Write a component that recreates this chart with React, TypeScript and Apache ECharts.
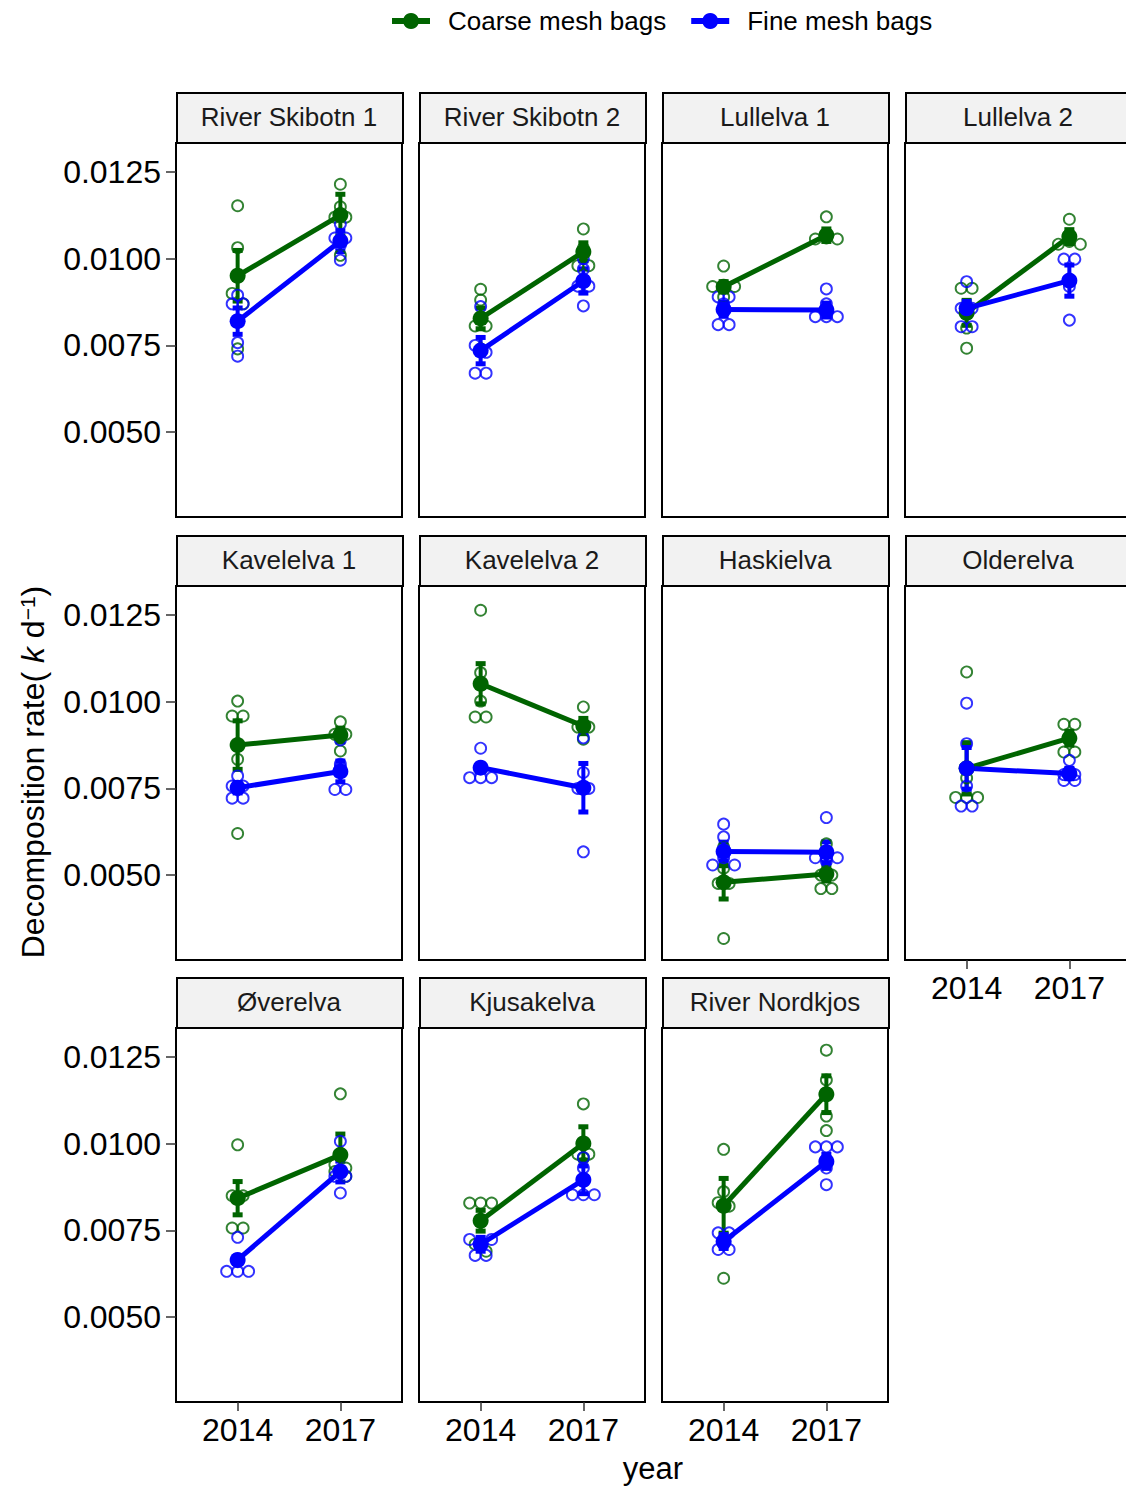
import React, { useEffect, useRef } from "react";
import * as echarts from "echarts";

// ---------------- DATA ----------------
const rivers = [
  "River Skibotn 1", "River Skibotn 2", "Lullelva 1", "Lullelva 2",
  "Kavelelva 1", "Kavelelva 2", "Haskielva", "Olderelva",
  "Øverelva", "Kjusakelva", "River Nordkjos",
];
const years = ["2014", "2017"];
const yTicks = [0.005, 0.0075, 0.01, 0.0125];

const coarseMean2014 = [0.00951, 0.00828, 0.00919, 0.00844, 0.00875, 0.01052, 0.00479, 0.00808, 0.00843, 0.00778, 0.00821];
const coarseMean2017 = [0.01126, 0.0102, 0.01068, 0.01064, 0.00904, 0.0093, 0.00503, 0.00895, 0.00968, 0.01001, 0.01143];
const fineMean2014 = [0.0082, 0.00735, 0.00854, 0.00857, 0.00752, 0.0081, 0.00568, 0.00808, 0.00665, 0.0071, 0.00718];
const fineMean2017 = [0.01051, 0.00936, 0.00852, 0.00937, 0.00799, 0.00752, 0.00566, 0.00793, 0.0092, 0.00896, 0.00949];

const coarseSe2014 = [0.00073, 0.0003, 0.00015, 0.00036, 0.0007, 0.00058, 0.00048, 0.00074, 0.00048, 0.0003, 0.00079];
const coarseSe2017 = [0.0006, 0.00026, 0.00018, 0.0002, 0.0002, 0.00022, 0.0002, 0.0002, 0.0006, 0.00048, 0.00053];
const fineSe2014 = [0.00038, 0.00038, 0.0002, 0.0002, 0.00015, 0.0001, 0.00027, 0.0006, 0.0001, 0.0002, 0.0002];
const fineSe2017 = [0.0003, 0.00035, 0.0002, 0.00045, 0.0003, 0.0007, 0.0003, 0.00015, 0.0003, 0.0004, 0.0002];

const coarseRaw2014 = [
  [0.01153, 0.01032, 0.009, 0.0087, 0.0074],
  [0.00912, 0.00881, 0.00806, 0.00806, 0.0074],
  [0.00979, 0.0092, 0.0092, 0.0092, 0.0089],
  [0.00915, 0.00915, 0.0085, 0.008, 0.00742],
  [0.01002, 0.00959, 0.00959, 0.00834, 0.0062],
  [0.01264, 0.01084, 0.01002, 0.00956, 0.00956],
  [0.0058, 0.0052, 0.00476, 0.00476, 0.00317],
  [0.01086, 0.0078, 0.00724, 0.00724, 0.00724],
  [0.00997, 0.0085, 0.0085, 0.00757, 0.00757],
  [0.00829, 0.00829, 0.00829, 0.0071, 0.0069],
  [0.00984, 0.00862, 0.0083, 0.0082, 0.00612],
];
const coarseDodge2014 = [
  [0, 0, -0.5, 0.5, 0], [0, 0, -0.5, 0.5, 0], [0, -1, 0, 1, 0], [-0.5, 0.5, 0, 0, 0],
  [0, -0.5, 0.5, 0, 0], [0, 0, 0, -0.5, 0.5], [0, 0, -0.5, 0.5, 0], [0, 0, -1, 0, 1],
  [0, -0.5, 0.5, -0.5, 0.5], [-1, 0, 1, -0.5, 0.5], [0, 0, -0.5, 0.5, 0],
];
const fineRaw2014 = [
  [0.00895, 0.0087, 0.0087, 0.00758, 0.00719],
  [0.00862, 0.0075, 0.0073, 0.0067, 0.0067],
  [0.0089, 0.0089, 0.0087, 0.0081, 0.0081],
  [0.00934, 0.00857, 0.00857, 0.00804, 0.00804],
  [0.00786, 0.00757, 0.00757, 0.00722, 0.00722],
  [0.00866, 0.0081, 0.00781, 0.00781, 0.00781],
  [0.00647, 0.0061, 0.0055, 0.00529, 0.00529],
  [0.00996, 0.00879, 0.00757, 0.00699, 0.00699],
  [0.0073, 0.0066, 0.00632, 0.00632, 0.00632],
  [0.00724, 0.00724, 0.0071, 0.00678, 0.00678],
  [0.00743, 0.00743, 0.0071, 0.00695, 0.00695],
];
const fineDodge2014 = [
  [0, -0.5, 0.5, 0, 0], [0, -0.5, 0.5, -0.5, 0.5], [-0.5, 0.5, 0, -0.5, 0.5], [0, -0.5, 0.5, -0.5, 0.5],
  [0, -0.5, 0.5, -0.5, 0.5], [0, 0, -1, 0, 1], [0, 0, 0, -1, 1], [0, 0, 0, -0.5, 0.5],
  [0, 0, -1, 0, 1], [-1, 1, 0, -0.5, 0.5], [-0.5, 0.5, 0, -0.5, 0.5],
];
const coarseRaw2017 = [
  [0.01215, 0.0115, 0.0112, 0.0112, 0.0101],
  [0.01086, 0.0103, 0.0102, 0.0098, 0.0098],
  [0.01121, 0.0107, 0.0106, 0.01057, 0.01057],
  [0.01114, 0.0107, 0.0105, 0.01042, 0.01042],
  [0.00942, 0.0091, 0.00906, 0.00906, 0.00858],
  [0.00985, 0.0093, 0.00927, 0.00927, 0.00892],
  [0.0059, 0.005, 0.005, 0.00461, 0.00461],
  [0.00935, 0.00935, 0.00895, 0.00855, 0.00855],
  [0.01144, 0.0094, 0.0093, 0.0092, 0.00906],
  [0.01115, 0.01, 0.0097, 0.0097, 0.0096],
  [0.0127, 0.01184, 0.0114, 0.0108, 0.01038],
];
const coarseDodge2017 = [
  [0, 0, -0.5, 0.5, 0], [0, 0, 0, -0.5, 0.5], [0, 0, 0, -1, 1], [0, 0, 0, -1, 1],
  [0, 0, -0.5, 0.5, 0], [0, 0, -0.5, 0.5, 0], [0, -0.5, 0.5, -0.5, 0.5], [-0.5, 0.5, 0, -0.5, 0.5],
  [0, -0.5, 0.5, -0.5, 0.5], [0, 0, -0.5, 0.5, 0], [0, 0, 0, 0, 0],
];
const fineRaw2017 = [
  [0.011, 0.0106, 0.0106, 0.0104, 0.00996],
  [0.01, 0.0097, 0.00921, 0.00921, 0.00864],
  [0.00913, 0.0087, 0.00833, 0.00833, 0.00833],
  [0.00999, 0.00999, 0.0094, 0.0092, 0.00823],
  [0.0089, 0.0082, 0.0081, 0.00747, 0.00747],
  [0.00896, 0.00796, 0.0075, 0.0075, 0.00567],
  [0.00666, 0.0055, 0.0055, 0.0055, 0.0054],
  [0.00831, 0.0079, 0.0079, 0.00773, 0.00773],
  [0.01007, 0.0092, 0.00906, 0.00906, 0.00858],
  [0.0096, 0.0093, 0.00853, 0.00853, 0.00853],
  [0.00991, 0.00991, 0.00991, 0.0093, 0.00882],
];
const fineDodge2017 = [
  [0, -0.5, 0.5, 0, 0], [0, 0, -0.5, 0.5, 0], [0, 0, -1, 0, 1], [-0.5, 0.5, 0, 0, 0],
  [0, 0, 0, -0.5, 0.5], [0, 0, -0.5, 0.5, 0], [0, -1, 0, 1, 0], [0, -0.5, 0.5, -0.5, 0.5],
  [0, 0, -0.5, 0.5, 0], [0, 0, -1, 0, 1], [-1, 0, 1, 0, 0],
];

// ---------------- STYLE / LAYOUT ----------------
const GREEN = "#006400";
const BLUE = "#0000FF";
const FONT = "'Liberation Sans', Arial, Helvetica, sans-serif";
const DODGE = 0.107;
const colLeft = [176, 419, 662, 905];
const rowTop = [143, 586, 1028];
const PW = 226;
const PH = 374;
const Y_MIN = 0.00255;
const Y_MAX = 0.01334;

export default function App() {
  const ref = useRef<HTMLDivElement>(null);

  useEffect(() => {
    const chart = echarts.init(ref.current as HTMLDivElement, null, { renderer: "svg" });
    const grids: any[] = [];
    const xAxes: any[] = [];
    const yAxes: any[] = [];
    const series: any[] = [];
    const graphics: any[] = [];

    const rawData = (v14: number[], d14: number[], v17: number[], d17: number[]) => [
      ...v14.map((v, j) => [1 + d14[j] * DODGE, v]),
      ...v17.map((v, j) => [2 + d17[j] * DODGE, v]),
    ];

    const errRender = (color: string) => (params: any, api: any) => {
      const x = api.value(0);
      const lo = api.coord([x, api.value(1)]);
      const hi = api.coord([x, api.value(2)]);
      const cw = 5;
      return {
        type: "group",
        children: [
          { type: "line", shape: { x1: lo[0], y1: lo[1], x2: hi[0], y2: hi[1] }, style: { stroke: color, lineWidth: 4 } },
          { type: "line", shape: { x1: lo[0] - cw, y1: lo[1], x2: lo[0] + cw, y2: lo[1] }, style: { stroke: color, lineWidth: 5 } },
          { type: "line", shape: { x1: hi[0] - cw, y1: hi[1], x2: hi[0] + cw, y2: hi[1] }, style: { stroke: color, lineWidth: 5 } },
        ],
      };
    };

    rivers.forEach((name, i) => {
      const row = Math.floor(i / 4);
      const col = i % 4;
      const left = colLeft[col];
      const top = rowTop[row];
      const hasX = i >= 7;
      const hasY = col === 0;

      grids.push({ left, top, width: PW, height: PH, show: true, borderColor: "#000", borderWidth: 2, backgroundColor: "#fff" });
      xAxes.push({
        gridIndex: i, type: "value", min: 0.4, max: 2.6,
        axisLine: { show: false }, splitLine: { show: false },
        axisTick: { show: hasX, customValues: [1, 2], length: 9, lineStyle: { color: "#333", width: 1.5 } },
        axisLabel: {
          show: hasX, customValues: [1, 2], margin: 12, fontSize: 32, fontFamily: FONT, color: "#000",
          formatter: (v: number) => years[Math.round(v) - 1],
        },
      });
      yAxes.push({
        gridIndex: i, type: "value", min: Y_MIN, max: Y_MAX,
        axisLine: { show: false }, splitLine: { show: false },
        axisTick: { show: hasY, customValues: yTicks, length: 10, lineStyle: { color: "#333", width: 1.5 } },
        axisLabel: {
          show: hasY, customValues: yTicks, margin: 15, fontSize: 32, fontFamily: FONT, color: "#000",
          formatter: (v: number) => v.toFixed(4),
        },
      });

      // coarse (green) layers
      series.push({
        type: "scatter", xAxisIndex: i, yAxisIndex: i, symbol: "circle", symbolSize: 11,
        itemStyle: { color: "rgba(0,0,0,0)", borderColor: GREEN, borderWidth: 1.9 },
        data: rawData(coarseRaw2014[i], coarseDodge2014[i], coarseRaw2017[i], coarseDodge2017[i]),
        silent: true,
      });
      series.push({
        type: "custom", xAxisIndex: i, yAxisIndex: i, renderItem: errRender(GREEN),
        encode: { x: 0, y: [1, 2] },
        data: [
          [1, coarseMean2014[i] - coarseSe2014[i], coarseMean2014[i] + coarseSe2014[i]],
          [2, coarseMean2017[i] - coarseSe2017[i], coarseMean2017[i] + coarseSe2017[i]],
        ],
        silent: true,
      });
      series.push({
        type: "line", name: "Coarse mesh bags", xAxisIndex: i, yAxisIndex: i,
        symbol: "circle", symbolSize: 16,
        lineStyle: { color: GREEN, width: 5 }, itemStyle: { color: GREEN },
        data: [[1, coarseMean2014[i]], [2, coarseMean2017[i]]],
      });
      // fine (blue) layers
      series.push({
        type: "scatter", xAxisIndex: i, yAxisIndex: i, symbol: "circle", symbolSize: 11,
        itemStyle: { color: "rgba(0,0,0,0)", borderColor: BLUE, borderWidth: 1.9 },
        data: rawData(fineRaw2014[i], fineDodge2014[i], fineRaw2017[i], fineDodge2017[i]),
        silent: true,
      });
      series.push({
        type: "custom", xAxisIndex: i, yAxisIndex: i, renderItem: errRender(BLUE),
        encode: { x: 0, y: [1, 2] },
        data: [
          [1, fineMean2014[i] - fineSe2014[i], fineMean2014[i] + fineSe2014[i]],
          [2, fineMean2017[i] - fineSe2017[i], fineMean2017[i] + fineSe2017[i]],
        ],
        silent: true,
      });
      series.push({
        type: "line", name: "Fine mesh bags", xAxisIndex: i, yAxisIndex: i,
        symbol: "circle", symbolSize: 16,
        lineStyle: { color: BLUE, width: 5 }, itemStyle: { color: BLUE },
        data: [[1, fineMean2014[i]], [2, fineMean2017[i]]],
      });

      // strip
      graphics.push({
        type: "rect", left, top: top - 51, z: 10,
        shape: { x: 0, y: 0, width: PW, height: 50 },
        style: { fill: "#F2F2F2", stroke: "#000", lineWidth: 2 },
      });
      graphics.push({
        type: "text", x: left + PW / 2, y: top - 26, z: 11,
        style: { text: name, fontSize: 26, fontFamily: FONT, fill: "#1a1a1a", align: "center", verticalAlign: "middle" },
      });
    });

    // axis titles
    graphics.push({
      type: "text", x: 653, y: 1468,
      style: { text: "year", fontSize: 31, fontFamily: FONT, fill: "#000", align: "center", verticalAlign: "middle" },
    });
    graphics.push({
      type: "text", x: 33, y: 772, rotation: Math.PI / 2,
      style: {
        text: "{a|Decomposition rate( }{i|k}{a| d}{s|−1}{a|)}",
        align: "center", verticalAlign: "middle",
        rich: {
          a: { fontSize: 32, fontFamily: FONT, fill: "#000", color: "#000" },
          i: { fontSize: 32, fontFamily: FONT, fontStyle: "italic", fill: "#000", color: "#000" },
          s: { fontSize: 21, fontFamily: FONT, fill: "#000", color: "#000", verticalAlign: "top" },
        },
      },
    });

    chart.setOption({
      animation: false,
      backgroundColor: "#fff",
      legend: {
        data: ["Coarse mesh bags", "Fine mesh bags"],
        left: 389, top: 8, padding: 0,
        itemWidth: 38, itemHeight: 20, itemGap: 22,
        lineStyle: { width: 6 },
        textStyle: { fontSize: 26, fontFamily: FONT, color: "#000", padding: [0, 0, 0, 13] },
        selectedMode: false,
      },
      grid: grids,
      xAxis: xAxes,
      yAxis: yAxes,
      series,
      graphic: graphics,
    });

    return () => chart.dispose();
  }, []);

  return (
    <div style={{ position: "absolute", left: 0, top: 0, width: 1126, height: 1488, overflow: "hidden", background: "#fff" }}>
      <div ref={ref} style={{ width: 1150, height: 1488 }} />
    </div>
  );
}
